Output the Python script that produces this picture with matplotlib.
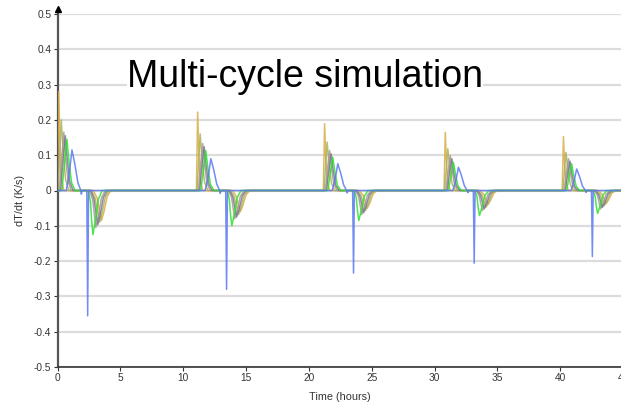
import matplotlib
matplotlib.use("Agg")
import matplotlib.pyplot as plt
import numpy as np

plt.rcParams['font.family'] = ['Liberation Sans', 'DejaVu Sans']

# ---- data ----
cycle_start = [0.0, 11.05, 21.15, 30.75, 40.15]   # hours

series_names = ["s1", "s2", "s3", "s4", "s5", "s6"]
series_colors = ["#d8ad45", "#a9b25c", "#a39a8c", "#7c7496", "#2fe02f", "#5b78f2"]

# positive pulse peak heights per cycle (K/s)
pos_peak = {
    "s1": [0.280, 0.222, 0.189, 0.165, 0.153],
    "s2": [0.200, 0.160, 0.137, 0.118, 0.108],
    "s3": [0.165, 0.133, 0.113, 0.099, 0.090],
    "s4": [0.155, 0.124, 0.104, 0.090, 0.083],
    "s5": [0.145, 0.113, 0.094, 0.080, 0.076],
    "s6": [0.115, 0.090, 0.076, 0.066, 0.061],
}
# negative pulse depths per cycle (K/s)
neg_peak = {
    "s1": [-0.085, -0.060, -0.050, -0.040, -0.037],
    "s2": [-0.090, -0.068, -0.057, -0.047, -0.043],
    "s3": [-0.105, -0.080, -0.068, -0.057, -0.052],
    "s4": [-0.097, -0.075, -0.063, -0.052, -0.048],
    "s5": [-0.125, -0.100, -0.085, -0.071, -0.065],
    "s6": [-0.355, -0.280, -0.234, -0.206, -0.187],
}
# pulse outline key points read from the first cycle: (hours after cycle start, fraction of peak)
pos_t = {
    "s1": [0.00, 0.10, 0.20, 0.32, 0.50],
    "s2": [0.05, 0.20, 0.30, 0.45, 0.65, 0.90],
    "s3": [0.15, 0.35, 0.50, 0.65, 0.85, 1.10],
    "s4": [0.25, 0.45, 0.62, 0.78, 0.98, 1.25],
    "s5": [0.35, 0.58, 0.75, 0.92, 1.12, 1.40],
    "s6": [0.70, 0.95, 1.15, 1.38, 1.62, 1.85, 1.90, 1.95],
}
pos_f = {
    "s1": [0, 1, 0.45, 0.12, 0],
    "s2": [0, 0.6, 1, 0.55, 0.15, 0],
    "s3": [0, 0.6, 1, 0.55, 0.15, 0],
    "s4": [0, 0.6, 1, 0.55, 0.15, 0],
    "s5": [0, 0.6, 1, 0.55, 0.15, 0],
    "s6": [0, 0.45, 1, 0.65, 0.2, 0, -0.09, 0],
}
neg_t = {
    "s1": [2.85, 3.15, 3.35, 3.50, 3.70, 3.95, 4.25],
    "s2": [2.70, 3.00, 3.20, 3.35, 3.55, 3.80, 4.10],
    "s3": [2.55, 2.80, 2.95, 3.05, 3.25, 3.50, 3.80],
    "s4": [2.65, 2.90, 3.08, 3.20, 3.40, 3.65, 3.95],
    "s5": [2.45, 2.62, 2.72, 2.82, 3.00, 3.25, 3.55],
    "s6": [2.33, 2.40, 2.47],
}
neg_f = {
    "s1": [0, 0.25, 0.7, 1, 0.7, 0.2, 0],
    "s2": [0, 0.25, 0.7, 1, 0.7, 0.2, 0],
    "s3": [0, 0.25, 0.7, 1, 0.7, 0.2, 0],
    "s4": [0, 0.25, 0.7, 1, 0.7, 0.2, 0],
    "s5": [0, 0.25, 0.7, 1, 0.7, 0.2, 0],
    "s6": [0, 1, 0],
}

x_ticks = [0, 5, 10, 15, 20, 25, 30, 35, 40, 45]
y_ticks = [0.5, 0.4, 0.3, 0.2, 0.1, 0, -0.1, -0.2, -0.3, -0.4, -0.5]
y_tick_labels = ["0.5", "0.4", "0.3", "0.2", "0.1", "0", "-0.1", "-0.2", "-0.3", "-0.4", "-0.5"]

# ---- figure ----
W, H = 621, 405
fig = plt.figure(figsize=(W / 100, H / 100), dpi=100)
px_per_h = 12.57
x_max = 47.0
left_px, right_px = 57.5, 57.5 + x_max * px_per_h
top_px, bot_px = 14, 367
ax = fig.add_axes([left_px / W, (H - bot_px) / H, (right_px - left_px) / W, (bot_px - top_px) / H])
ax.set_xlim(0, x_max)
ax.set_ylim(-0.5, 0.5)

for name, col in zip(series_names, series_colors):
    ts, vs = [0.0], [0.0]
    for k, c in enumerate(cycle_start):
        for t, f in zip(pos_t[name], pos_f[name]):
            ts.append(c + t); vs.append(f * pos_peak[name][k])
        for t, f in zip(neg_t[name], neg_f[name]):
            ts.append(c + t); vs.append(f * neg_peak[name][k])
    ts.append(x_max); vs.append(0.0)
    ax.plot(ts, vs, color=col, lw=1.1, alpha=0.85, solid_joinstyle='round', zorder=3)

ax.set_yticks(y_ticks)
ax.set_yticklabels(y_tick_labels)
ax.set_xticks(x_ticks)
ax.grid(axis='y', color='#dcdcdc', lw=1.6)
ax.set_axisbelow(True)
for s in ['top', 'right']:
    ax.spines[s].set_visible(False)
ax.spines['left'].set_color('#555555')
ax.spines['bottom'].set_color('#333333')
ax.spines['left'].set_linewidth(1.6)
ax.spines['bottom'].set_linewidth(1.2)
ax.tick_params(axis='both', labelsize=7.3, colors='#333333', length=3, width=0.8, pad=1.5)

# arrow at top of y axis
ax.plot([0], [0.514], marker='^', color='black', markersize=5, clip_on=False, zorder=5)

fig.text(20 / W, 1 - 200 / H, "dT/dt (K/s)", rotation=90, ha='center', va='center', fontsize=7.8, color='#333333')
fig.text(340 / W, 1 - 397 / H, "Time (hours)", ha='center', va='center', fontsize=7.8, color='#333333')

ax.text(5.5, 0.292, "Multi-cycle simulation", fontsize=27, color='black', ha='left', va='baseline',
        zorder=6, bbox=dict(facecolor='white', edgecolor='none', pad=0))

fig.savefig("out.png", dpi=100)
